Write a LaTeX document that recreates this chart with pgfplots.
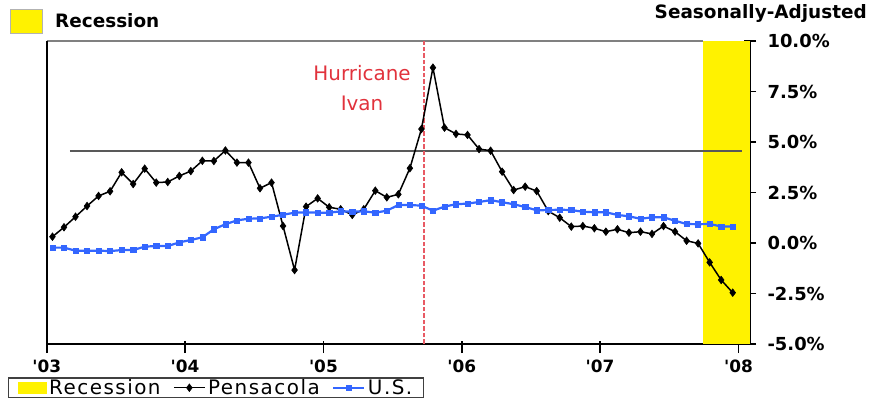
\documentclass[border=0pt]{standalone}
\usepackage{fontspec}
\setmainfont{DejaVu Sans}
\newfontfamily\legfont[LetterSpace=7.5]{DejaVu Sans}
\usepackage{pgfplots}
\usepackage{pgfplotstable}
\pgfplotsset{compat=1.18}
\definecolor{usblue}{RGB}{51,102,255}
\definecolor{ivanred}{RGB}{225,50,60}
\definecolor{ivanline}{RGB}{232,90,100}

\pgfplotstableread{
x y
0.5 0.31
1.5 0.78
2.5 1.30
3.5 1.83
4.5 2.33
5.5 2.56
6.5 3.50
7.5 2.92
8.5 3.68
9.5 2.99
10.5 3.02
11.5 3.32
12.5 3.56
13.5 4.07
14.5 4.06
15.5 4.58
16.5 3.98
17.5 3.98
18.5 2.71
19.5 2.99
20.5 0.84
21.5 -1.34
22.5 1.80
23.5 2.21
24.5 1.77
25.5 1.67
26.5 1.39
27.5 1.67
28.5 2.59
29.5 2.26
30.5 2.41
31.5 3.70
32.5 5.64
33.5 8.68
34.5 5.71
35.5 5.40
36.5 5.35
37.5 4.65
38.5 4.57
39.5 3.53
40.5 2.62
41.5 2.79
42.5 2.57
43.5 1.58
44.5 1.25
45.5 0.81
46.5 0.84
47.5 0.73
48.5 0.56
49.5 0.68
50.5 0.51
51.5 0.56
52.5 0.45
53.5 0.84
54.5 0.56
55.5 0.11
56.5 -0.02
57.5 -0.96
58.5 -1.83
59.5 -2.46
}\pensacola

\pgfplotstableread{
x y
0.5 -0.23
1.5 -0.23
2.5 -0.38
3.5 -0.38
4.5 -0.38
5.5 -0.40
6.5 -0.35
7.5 -0.35
8.5 -0.18
9.5 -0.15
10.5 -0.15
11.5 0.03
12.5 0.15
13.5 0.28
14.5 0.68
15.5 0.93
16.5 1.12
17.5 1.20
18.5 1.22
19.5 1.30
20.5 1.40
21.5 1.50
22.5 1.52
23.5 1.50
24.5 1.50
25.5 1.57
26.5 1.55
27.5 1.57
28.5 1.50
29.5 1.60
30.5 1.88
31.5 1.88
32.5 1.85
33.5 1.60
34.5 1.80
35.5 1.92
36.5 1.95
37.5 2.03
38.5 2.12
39.5 2.02
40.5 1.92
41.5 1.78
42.5 1.62
43.5 1.63
44.5 1.65
45.5 1.63
46.5 1.55
47.5 1.52
48.5 1.52
49.5 1.39
50.5 1.32
51.5 1.20
52.5 1.27
53.5 1.27
54.5 1.10
55.5 0.94
56.5 0.93
57.5 0.94
58.5 0.82
59.5 0.82
}\us

\begin{document}
\begin{tikzpicture}
\path[use as bounding box] (0bp,0bp) rectangle (869bp,404bp);
\node[draw=black!30, line width=0.8bp, fill=yellow, minimum width=32bp, minimum height=24bp, inner sep=0pt, anchor=north west] at (10bp,395bp) {};
\node[anchor=west, inner sep=0pt, font=\fontsize{18.5}{20}\selectfont\bfseries] at (55bp,383bp) {Recession};
\node[anchor=east, inner sep=0pt, font=\fontsize{18.5}{20}\selectfont\bfseries] at (867bp,391bp) {Seasonally-Adjusted};
\begin{axis}[
  at={(46.7bp,60bp)}, anchor=south west,
  scale only axis, width=703.3bp, height=303bp,
  xmin=0, xmax=61, ymin=-5, ymax=10,
  axis x line*=bottom, axis y line*=right,
  axis line style={-, black, line width=1.6bp},
  xtick={0,12,24,36,48,60},
  xticklabels={\textquotesingle03,\textquotesingle04,\textquotesingle05,\textquotesingle06,\textquotesingle07,\textquotesingle08},
  ytick={-5,-2.5,0,2.5,5,7.5,10},
  yticklabels={-5.0\%,-2.5\%,0.0\%,2.5\%,5.0\%,7.5\%,10.0\%},
  tick align=center, major tick length=12bp,
  tick style={black, line width=1.6bp},
  x tick style={yshift=-3bp},
  xticklabel style={font=\fontsize{17}{18}\selectfont\bfseries, yshift=-6.5bp},
  yticklabel style={font=\fontsize{18}{19}\selectfont\bfseries, anchor=west, xshift=8bp},
  legend columns=3,
  legend style={at={(-0.055,-0.11)}, anchor=north west, draw=black!75, line width=1.2bp,
    font=\fontsize{20}{21}\selectfont\legfont, inner xsep=9bp, inner ysep=0.5bp, row sep=0pt,
    nodes={inner xsep=2.5bp, inner ysep=1bp},
    /tikz/every even column/.append style={column sep=10bp}},
  legend image code/.code={\draw[mark repeat=2,mark phase=2] plot coordinates {(0bp,0bp) (15.5bp,0bp) (31bp,0bp)};},
  clip=false,
]
\addplot[fill=yellow, draw=none,
  legend image code/.code={\fill[yellow] (0bp,-6bp) rectangle (29bp,6bp);}]
  coordinates {(56.95,-5) (56.95,10) (61,10) (61,-5)} -- cycle;
\addlegendentry{Recession}
\draw[black!50, line width=1.2bp] (axis cs:0,10) -- (axis cs:56.95,10);
\draw[black, line width=1.6bp] (axis cs:0,-5) -- (axis cs:0,10);
\addplot[color=black!65, line width=1.8bp, forget plot] coordinates {(2,4.55) (60.3,4.55)};
\addplot[color=ivanline, line width=2bp, dash pattern=on 4.5bp off 2bp, forget plot] coordinates {(32.7,-5) (32.7,10)};
\node[ivanred, align=center, font=\fontsize{20}{30}\selectfont] at (axis cs:27.35,7.65) {Hurricane\\Ivan};
\addplot[black, line width=1.5bp, mark=diamond*, mark size=3.8bp, mark options={line width=0.6bp}] table[x=x,y=y] {\pensacola};
\addlegendentry{Pensacola}
\addplot[usblue, line width=2.2bp, mark=square*, mark size=2.6bp, mark options={line width=0.5bp}] table[x=x,y=y] {\us};
\addlegendentry{U.S.}
\end{axis}
\end{tikzpicture}
\end{document}
